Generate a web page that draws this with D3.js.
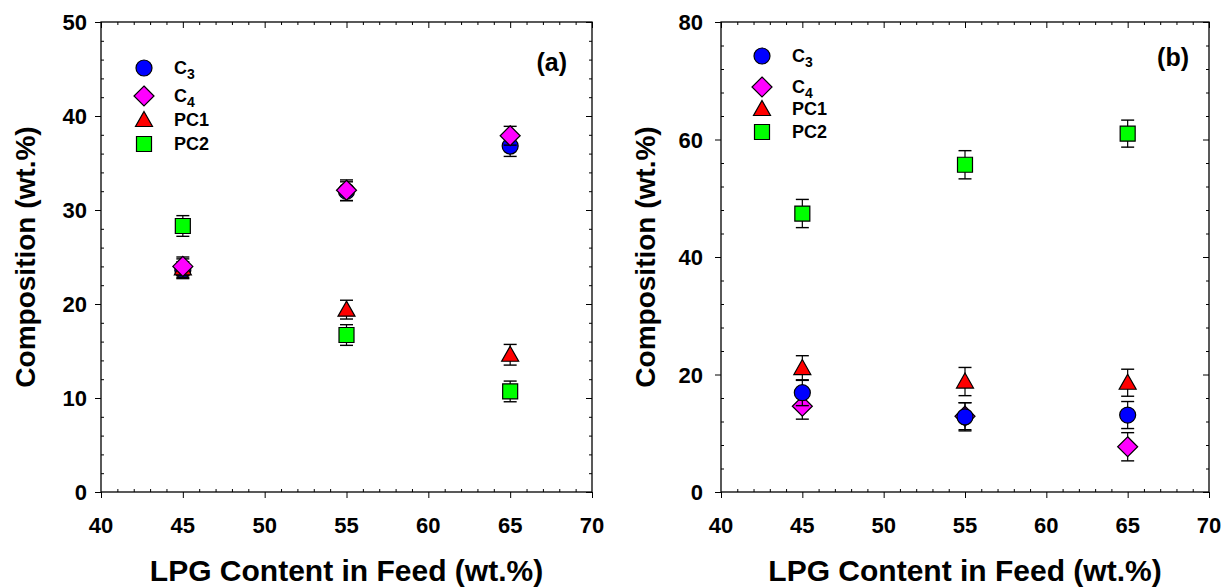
<!DOCTYPE html>
<html>
<head>
<meta charset="utf-8">
<script src="https://cdn.jsdelivr.net/npm/d3@7"></script>
<style>
  html, body { margin: 0; padding: 0; background: #fff; }
  svg { display: block; font-family: Arial, "Liberation Sans", sans-serif; }
</style>
</head>
<body>
<svg id="chart" width="1222" height="588"></svg>
<script>
// LPG content in feed (wt.%)
const feed = [45, 55, 65];
const seriesNames = ["C3", "C4", "PC1", "PC2"];

// Panel (a): composition (wt.%) and error half-widths
const aC3 = [23.6, 32.0, 36.8];
const aC4 = [24.0, 32.1, 37.9];
const aPC1 = [23.8, 19.4, 14.6];
const aPC2 = [28.3, 16.7, 10.7];
const aC3Err = [0.9, 1.0, 1.1];
const aC4Err = [1.0, 1.1, 1.0];
const aPC1Err = [1.0, 1.0, 1.1];
const aPC2Err = [1.1, 1.1, 1.1];

// Panel (b): composition (wt.%) and error half-widths
const bC3 = [16.9, 12.8, 13.1];
const bC4 = [14.6, 12.9, 7.7];
const bPC1 = [21.1, 18.8, 18.6];
const bPC2 = [47.4, 55.7, 61.0];
const bC3Err = [2.2, 2.4, 2.3];
const bC4Err = [2.2, 2.3, 2.4];
const bPC1Err = [2.1, 2.4, 2.3];
const bPC2Err = [2.4, 2.4, 2.3];

const xTicks = [40, 45, 50, 55, 60, 65, 70];
const aYTicks = [0, 10, 20, 30, 40, 50];
const bYTicks = [0, 20, 40, 60, 80];

const xTitle = "LPG Content in Feed (wt.%)";
const yTitle = "Composition (wt.%)";

const styles = {
  C3: { shape: "circle", fill: "#0000ff" },
  C4: { shape: "diamond", fill: "#ff00ff" },
  PC1: { shape: "triangle", fill: "#ff0000" },
  PC2: { shape: "square", fill: "#00ff00" }
};

const svg = d3.select("#chart");

function markerPath(shape) {
  switch (shape) {
    case "circle": return d3.symbol(d3.symbolCircle, Math.PI * 8 * 8)();
    case "square": return "M-7.5,-7.5H7.5V7.5H-7.5Z";
    case "diamond": return "M0,-10L10,0L0,10L-10,0Z";
    case "triangle": return "M0,-8.5L8.5,6.5L-8.5,6.5Z";
  }
}

function drawPanel(cfg) {
  const g = svg.append("g");
  const x = d3.scaleLinear().domain([40, 70]).range([cfg.left, cfg.right]);
  const y = d3.scaleLinear().domain([0, cfg.yMax]).range([cfg.bottom, cfg.top]);

  const xMinor = d3.range(40, 70.001, 1).filter(v => v % 5 !== 0);
  const yMinor = d3.range(0, cfg.yMax + 0.001, cfg.yMinorStep).filter(v => v % cfg.yMajorStep !== 0);

  const noDomain = sel => sel.select(".domain").remove();

  // bottom: major outward, minor inward
  g.append("g").attr("transform", `translate(0,${cfg.bottom})`)
    .call(d3.axisBottom(x).tickValues(xTicks).tickSize(6).tickFormat(""))
    .call(noDomain);
  g.append("g").attr("transform", `translate(0,${cfg.bottom})`)
    .call(d3.axisTop(x).tickValues(xMinor).tickSize(3).tickFormat(""))
    .call(noDomain);
  // top: all inward
  g.append("g").attr("transform", `translate(0,${cfg.top})`)
    .call(d3.axisBottom(x).tickValues(xTicks).tickSize(6).tickFormat(""))
    .call(noDomain);
  g.append("g").attr("transform", `translate(0,${cfg.top})`)
    .call(d3.axisBottom(x).tickValues(xMinor).tickSize(3).tickFormat(""))
    .call(noDomain);
  // left: major outward, minor inward
  g.append("g").attr("transform", `translate(${cfg.left},0)`)
    .call(d3.axisLeft(y).tickValues(cfg.yTicks).tickSize(6).tickFormat(""))
    .call(noDomain);
  g.append("g").attr("transform", `translate(${cfg.left},0)`)
    .call(d3.axisRight(y).tickValues(yMinor).tickSize(3).tickFormat(""))
    .call(noDomain);
  // right: all inward
  g.append("g").attr("transform", `translate(${cfg.right},0)`)
    .call(d3.axisLeft(y).tickValues(cfg.yTicks).tickSize(6).tickFormat(""))
    .call(noDomain);
  g.append("g").attr("transform", `translate(${cfg.right},0)`)
    .call(d3.axisLeft(y).tickValues(yMinor).tickSize(3).tickFormat(""))
    .call(noDomain);

  g.selectAll(".tick line").attr("stroke", "#000").attr("stroke-width", 1);

  // frame
  g.append("rect")
    .attr("x", cfg.left).attr("y", cfg.top)
    .attr("width", cfg.right - cfg.left).attr("height", cfg.bottom - cfg.top)
    .attr("fill", "none").attr("stroke", "#000").attr("stroke-width", 1.3);

  // tick labels
  g.selectAll(".xl").data(xTicks).join("text")
    .attr("x", d => x(d)).attr("y", cfg.bottom + 41)
    .attr("text-anchor", "middle").attr("font-size", 22).attr("font-weight", "bold")
    .text(d => d);
  g.selectAll(".yl").data(cfg.yTicks).join("text")
    .attr("x", cfg.left - cfg.yLabelGap).attr("y", d => y(d) + 8)
    .attr("text-anchor", "end").attr("font-size", 22).attr("font-weight", "bold")
    .text(d => d);

  // axis titles
  g.append("text")
    .attr("x", (cfg.left + cfg.right) / 2).attr("y", 581)
    .attr("text-anchor", "middle").attr("font-size", 30).attr("font-weight", "bold")
    .text(xTitle);
  g.append("text")
    .attr("transform", `translate(${cfg.left - 66},${(cfg.top + cfg.bottom) / 2}) rotate(-90)`)
    .attr("text-anchor", "middle").attr("font-size", 28).attr("font-weight", "bold")
    .text(yTitle);

  // panel tag
  g.append("text")
    .attr("x", cfg.tagX).attr("y", cfg.tagY)
    .attr("text-anchor", "end").attr("font-size", 25).attr("font-weight", "bold")
    .text(cfg.tag);

  // data: error bars then markers, series by series
  cfg.order.forEach(name => {
    const s = cfg.series[name];
    const st = styles[name];
    const pts = feed.map((f, i) => ({ x: f, v: s.values[i], e: s.err[i] }));
    const sg = g.append("g");
    pts.forEach(p => {
      const cx = x(p.x);
      const y1 = y(p.v + p.e), y2 = y(p.v - p.e);
      sg.append("line").attr("x1", cx).attr("x2", cx).attr("y1", y1).attr("y2", y2)
        .attr("stroke", "#000").attr("stroke-width", 1.2);
      [y1, y2].forEach(yy => sg.append("line")
        .attr("x1", cx - 6.5).attr("x2", cx + 6.5).attr("y1", yy).attr("y2", yy)
        .attr("stroke", "#000").attr("stroke-width", 1.4));
      sg.append("path").attr("d", markerPath(st.shape))
        .attr("transform", `translate(${cx},${y(p.v)})`)
        .attr("fill", st.fill).attr("stroke", "#000").attr("stroke-width", 1.2);
    });
  });

  // legend
  const lg = g.append("g");
  seriesNames.forEach((name, i) => {
    const ly = cfg.legendY[i];
    lg.append("path").attr("d", markerPath(styles[name].shape))
      .attr("transform", `translate(${cfg.legendX},${ly})`)
      .attr("fill", styles[name].fill).attr("stroke", "#000").attr("stroke-width", 1.2);
    const t = lg.append("text")
      .attr("x", cfg.legendX + 30).attr("y", ly + 6)
      .attr("font-size", 18).attr("font-weight", "bold");
    if (name === "C3" || name === "C4") {
      t.append("tspan").text("C");
      t.append("tspan").attr("font-size", 14).attr("dy", 5).text(name.slice(1));
    } else {
      t.text(name);
    }
  });
}

drawPanel({
  left: 101, right: 592, top: 22, bottom: 492,
  yMax: 50, yTicks: aYTicks, yMajorStep: 10, yMinorStep: 2, yLabelGap: 14,
  tag: "(a)", tagX: 567, tagY: 71,
  legendX: 144, legendY: [68, 96, 120, 144],
  order: ["C3", "PC1", "PC2", "C4"],
  series: {
    C3: { values: aC3, err: aC3Err },
    C4: { values: aC4, err: aC4Err },
    PC1: { values: aPC1, err: aPC1Err },
    PC2: { values: aPC2, err: aPC2Err }
  }
});

drawPanel({
  left: 721, right: 1209, top: 22, bottom: 492,
  yMax: 80, yTicks: bYTicks, yMajorStep: 20, yMinorStep: 4, yLabelGap: 18,
  tag: "(b)", tagX: 1189, tagY: 66,
  legendX: 762, legendY: [56, 87, 109, 132],
  order: ["C4", "C3", "PC1", "PC2"],
  series: {
    C3: { values: bC3, err: bC3Err },
    C4: { values: bC4, err: bC4Err },
    PC1: { values: bPC1, err: bPC1Err },
    PC2: { values: bPC2, err: bPC2Err }
  }
});
</script>
</body>
</html>
